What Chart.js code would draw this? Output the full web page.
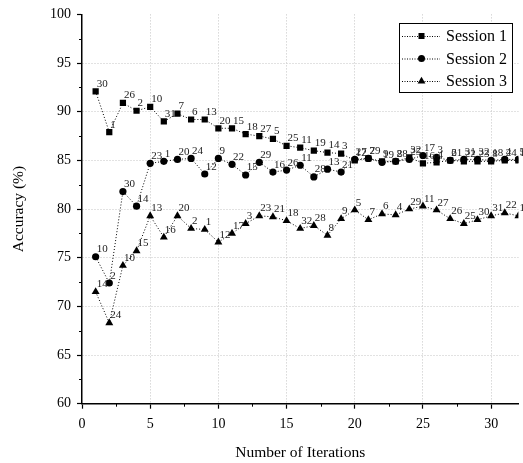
<!DOCTYPE html>
<html>
<head>
<meta charset="utf-8">
<script src="https://cdn.jsdelivr.net/npm/chart.js@4.4.1/dist/chart.umd.min.js"></script>
<style>
  html, body { margin: 0; padding: 0; background: #fff; }
  #wrap { width: 523px; height: 463px; }
</style>
</head>
<body>
<div id="wrap"><canvas id="chart" width="523" height="463"></canvas></div>
<script>
// ============================================
// DATA
// ============================================
const iterations = [1, 2, 3, 4, 5, 6, 7, 8, 9, 10, 11, 12, 13, 14, 15, 16,
                    17, 18, 19, 20, 21, 22, 23, 24, 25, 26, 27, 28, 29, 30, 31, 32];

const session1 = [92.1, 87.9, 90.9, 90.1, 90.5, 89.0, 89.8, 89.2, 89.2, 88.3, 88.3, 87.7, 87.5, 87.2, 86.5, 86.3,
                  86.0, 85.8, 85.7, 85.0, 85.2, 84.9, 84.9, 85.3, 84.7, 84.8, 85.0, 84.9, 84.9, 84.9, 85.0, 85.0];
const session2 = [75.1, 72.4, 81.8, 80.3, 84.7, 84.9, 85.1, 85.2, 83.6, 85.2, 84.6, 83.5, 84.8, 83.8, 84.0, 84.5,
                  83.3, 84.1, 83.8, 85.1, 85.2, 84.8, 84.9, 85.1, 85.5, 85.3, 85.0, 85.1, 85.1, 85.0, 85.1, 85.1];
const session3 = [71.5, 68.3, 74.2, 75.7, 79.3, 77.1, 79.3, 78.0, 77.9, 76.6, 77.5, 78.5, 79.3, 79.2, 78.8, 78.0,
                  78.3, 77.3, 79.0, 79.9, 78.9, 79.5, 79.4, 80.0, 80.3, 79.9, 79.0, 78.5, 78.9, 79.3, 79.6, 79.3];

// run index printed next to every point
const runs1 = [30, 1, 26, 2, 10, 31, 7, 6, 13, 20, 15, 18, 27, 5, 25, 11, 19, 14, 3, 12, 29, 9, 28, 32, 16, 4, 21, 22, 23, 8, 24, 17];
const runs2 = [10, 2, 30, 14, 23, 1, 20, 24, 12, 9, 22, 15, 29, 16, 26, 11, 28, 13, 21, 27, 7, 19, 8, 25, 17, 3, 6, 31, 32, 18, 4, 5];
const runs3 = [14, 24, 10, 15, 13, 16, 20, 2, 1, 12, 17, 3, 23, 21, 18, 32, 28, 8, 9, 5, 7, 6, 4, 29, 11, 27, 26, 25, 30, 31, 22, 19];

const seriesNames = ['Session 1', 'Session 2', 'Session 3'];
const xTicks = [0, 5, 10, 15, 20, 25, 30];
const yTicks = [60, 65, 70, 75, 80, 85, 90, 95, 100];

const SERIF = '"Liberation Serif", "Times New Roman", serif';

// ============================================
// PLUGINS
// ============================================
const minorTicks = {
    id: 'minorTicks',
    afterDraw(chart) {
        const { ctx, scales: { x, y } } = chart;
        ctx.save();
        ctx.strokeStyle = '#000';
        ctx.lineWidth = 1;
        ctx.beginPath();
        for (let v = 2.5; v < x.max; v += 5) {
            const px = Math.round(x.getPixelForValue(v)) + 0.5;
            ctx.moveTo(px, x.top);
            ctx.lineTo(px, x.top + 3);
        }
        for (let v = 62.5; v < y.max; v += 5) {
            const py = Math.round(y.getPixelForValue(v)) + 0.5;
            ctx.moveTo(y.right, py);
            ctx.lineTo(y.right - 3, py);
        }
        ctx.stroke();
        ctx.restore();
    }
};

const pointLabels = {
    id: 'pointLabels',
    afterDatasetsDraw(chart) {
        const ctx = chart.ctx;
        ctx.save();
        ctx.font = '11px ' + SERIF;
        ctx.fillStyle = '#222';
        ctx.textAlign = 'left';
        ctx.textBaseline = 'alphabetic';
        chart.data.datasets.forEach((ds, i) => {
            const meta = chart.getDatasetMeta(i);
            meta.data.forEach((pt, j) => {
                ctx.fillText(String(ds.runs[j]), pt.x + 1, pt.y - 4.5);
            });
        });
        ctx.restore();
    }
};

function marker(ctx, style, x, y) {
    ctx.beginPath();
    if (style === 'rect') {
        ctx.rect(x - 3, y - 3, 6, 6);
    } else if (style === 'circle') {
        ctx.arc(x, y, 3.5, 0, Math.PI * 2);
    } else {
        ctx.moveTo(x, y - 4.3);
        ctx.lineTo(x + 3.9, y + 2.6);
        ctx.lineTo(x - 3.9, y + 2.6);
        ctx.closePath();
    }
    ctx.fill();
}

const boxLegend = {
    id: 'boxLegend',
    afterDraw(chart) {
        const ctx = chart.ctx;
        const left = 399.5, top = 23.5, w = 113, h = 69;
        ctx.save();
        ctx.fillStyle = '#fff';
        ctx.fillRect(left, top, w, h);
        ctx.strokeStyle = '#000';
        ctx.lineWidth = 1;
        ctx.strokeRect(left, top, w, h);
        ctx.font = '16px ' + SERIF;
        ctx.textBaseline = 'middle';
        ctx.textAlign = 'left';
        chart.data.datasets.forEach((ds, i) => {
            const cy = 36 + i * 22.5;
            ctx.strokeStyle = '#000';
            ctx.setLineDash([1, 1.5]);
            ctx.beginPath();
            ctx.moveTo(402, cy + 0.5);
            ctx.lineTo(440, cy + 0.5);
            ctx.stroke();
            ctx.setLineDash([]);
            ctx.fillStyle = '#000';
            marker(ctx, ds.pointStyle, 421.5, cy);
            ctx.fillText(ds.label, 446, cy + 1);
        });
        ctx.restore();
    }
};

// ============================================
// CHART
// ============================================
function makeSet(label, values, runs, style, radius) {
    return {
        label,
        data: iterations.map((it, i) => ({ x: it, y: values[i] })),
        runs,
        borderColor: '#000',
        backgroundColor: '#000',
        borderWidth: 1,
        borderDash: [1, 2],
        pointStyle: style,
        pointRadius: radius,
        pointHoverRadius: radius,
        pointBorderWidth: 0,
        tension: 0
    };
}

new Chart(document.getElementById('chart'), {
    type: 'line',
    data: {
        datasets: [
            makeSet(seriesNames[0], session1, runs1, 'rect', 4.4),
            makeSet(seriesNames[1], session2, runs2, 'circle', 3.6),
            makeSet(seriesNames[2], session3, runs3, 'triangle', 4.6)
        ]
    },
    options: {
        responsive: false,
        animation: false,
        events: [],
        layout: { padding: { left: 0, right: 4, top: 13.5, bottom: 0 } },
        plugins: {
            legend: { display: false },
            tooltip: { enabled: false }
        },
        scales: {
            x: {
                type: 'linear',
                min: 0,
                max: 32,
                afterFit: (scale) => { scale.height = 59.3; },
                afterBuildTicks: (scale) => { scale.ticks = xTicks.map(v => ({ value: v })); },
                ticks: {
                    stepSize: 5,
                    includeBounds: false,
                    color: '#000',
                    padding: 7,
                    maxRotation: 0,
                    font: { family: SERIF, size: 14 }
                },
                grid: {
                    color: (c) => (c.tick && c.tick.value === 0) ? 'rgba(0,0,0,0)' : '#c4c4c4',
                    lineWidth: 1,
                    tickLength: 5,
                    tickColor: '#000',
                    tickWidth: 1.2
                },
                border: { display: true, color: '#000', width: 1.5, dash: [1, 2] },
                title: {
                    display: true,
                    text: 'Number of Iterations',
                    color: '#000',
                    font: { family: SERIF, size: 15.5 },
                    padding: { top: 0, bottom: 1 }
                }
            },
            y: {
                min: 60,
                max: 100,
                afterFit: (scale) => { scale.width = 82; },
                afterBuildTicks: (scale) => { scale.ticks = yTicks.map(v => ({ value: v })); },
                ticks: {
                    stepSize: 5,
                    color: '#000',
                    padding: 6,
                    font: { family: SERIF, size: 14 }
                },
                grid: {
                    color: (c) => (c.tick && (c.tick.value === 60 || c.tick.value === 100)) ? 'rgba(0,0,0,0)' : '#c4c4c4',
                    lineWidth: 1,
                    tickLength: 5,
                    tickColor: '#000',
                    tickWidth: 1.2
                },
                border: { display: true, color: '#000', width: 1.5, dash: [1, 2] },
                title: {
                    display: true,
                    text: 'Accuracy (%)',
                    color: '#000',
                    font: { family: SERIF, size: 15.5 },
                    padding: { top: 10, bottom: 0 }
                }
            }
        }
    },
    plugins: [minorTicks, pointLabels, boxLegend]
});
</script>
</body>
</html>
